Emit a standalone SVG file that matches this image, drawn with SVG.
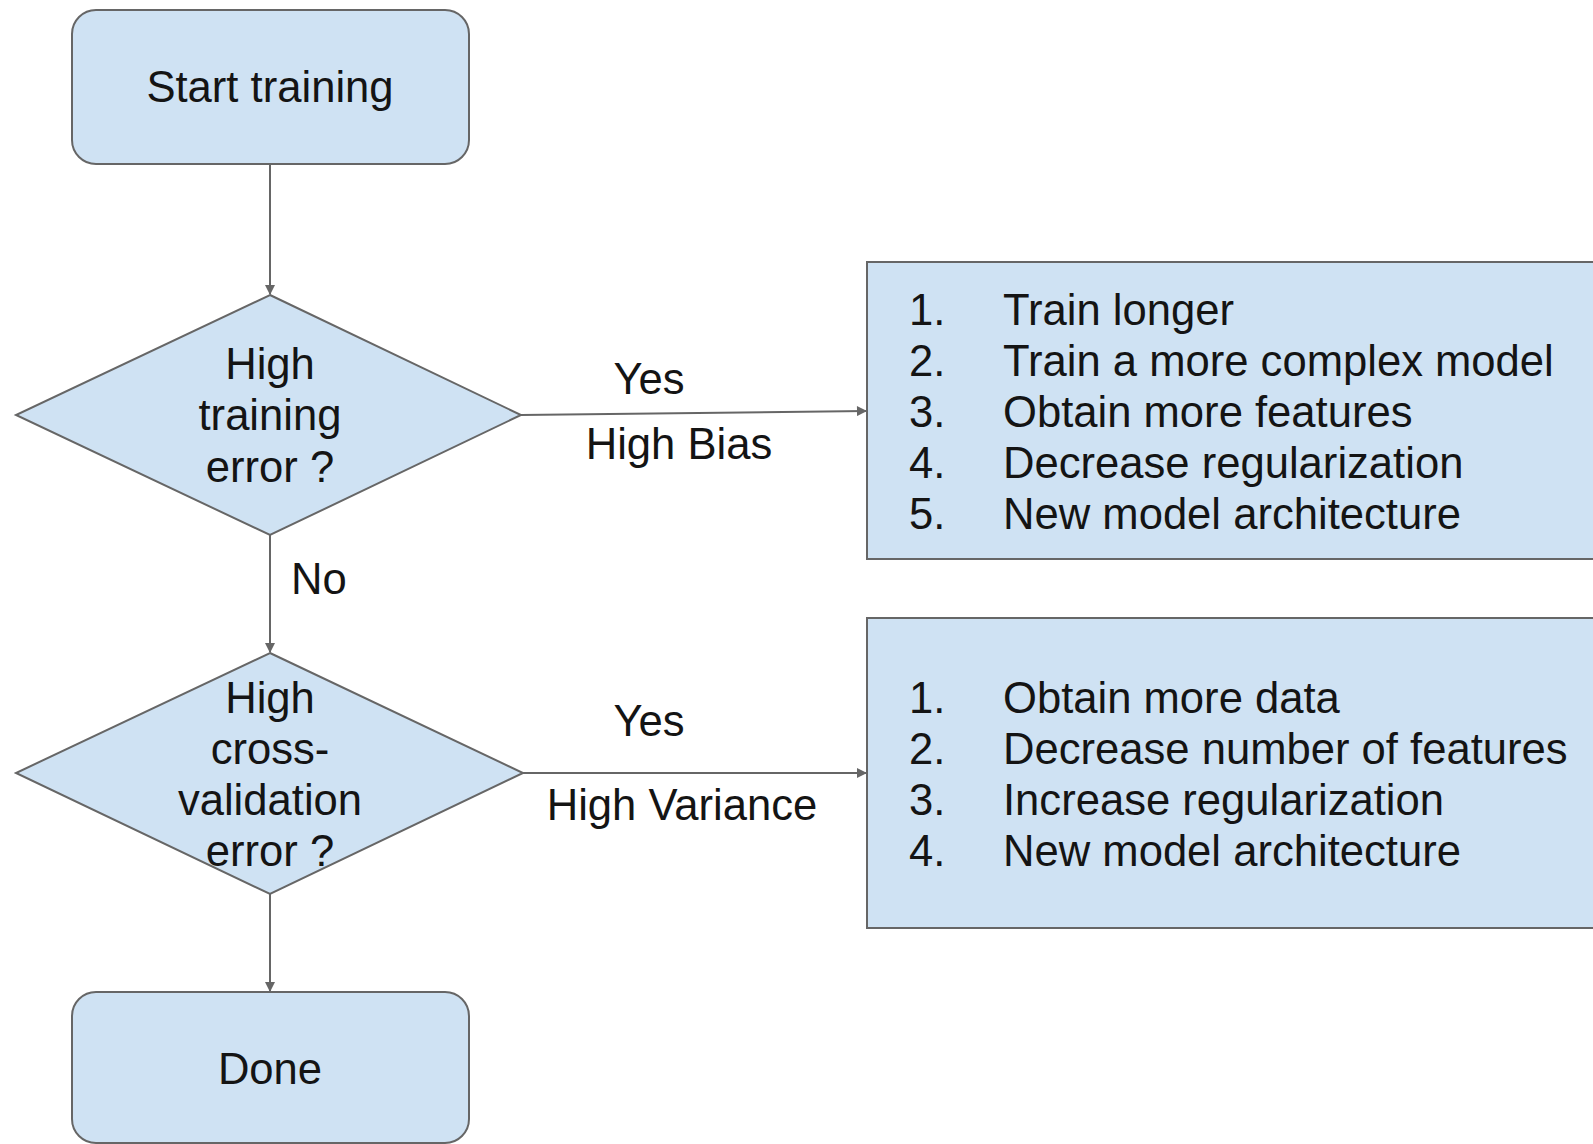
<svg xmlns="http://www.w3.org/2000/svg" width="1593" height="1144" viewBox="0 0 1593 1144">
<style>
.shape{fill:#cfe2f3;stroke:#666666;stroke-width:2}
.t{font-family:"Liberation Sans",Arial,sans-serif;font-size:43.6px;fill:#141414}
.c{text-anchor:middle}
.edge{stroke:#666666;stroke-width:2;fill:none;marker-end:url(#arr)}
</style>
<defs>
<marker id="arr" viewBox="0 0 10 10" refX="9" refY="5" markerWidth="5.5" markerHeight="5" markerUnits="strokeWidth" orient="auto">
<path d="M0,0 L10,5 L0,10 z" fill="#666666"/>
</marker>
</defs>
<rect width="1593" height="1144" fill="#ffffff"/>
<g id="connectors">
<line class="edge" x1="270" y1="164" x2="270" y2="294"/>
<line class="edge" x1="521" y1="415" x2="866" y2="411"/>
<line class="edge" x1="270" y1="535" x2="270" y2="652"/>
<line class="edge" x1="523" y1="773" x2="866" y2="773"/>
<line class="edge" x1="270" y1="894" x2="270" y2="991"/>
<text class="t c" x="649" y="394">Yes</text>
<text class="t c" x="679" y="459">High Bias</text>
<text class="t" x="291" y="594">No</text>
<text class="t c" x="649" y="736">Yes</text>
<text class="t c" x="682" y="820">High Variance</text>
</g>
<g id="start">
<rect class="shape" x="72" y="10" width="397" height="154" rx="24"/>
<text class="t c" x="270" y="102">Start training</text>
</g>
<g id="decision1">
<polygon class="shape" points="270,295 521,415 270,535 16,415"/>
<text class="t c" x="270" y="379">High</text>
<text class="t c" x="270" y="430">training</text>
<text class="t c" x="270" y="482">error ?</text>
</g>
<g id="bias-actions">
<rect class="shape" x="867" y="262" width="740" height="297"/>
<text class="t" x="909" y="325">1.</text><text class="t" x="1003" y="325">Train longer</text>
<text class="t" x="909" y="376">2.</text><text class="t" x="1003" y="376">Train a more complex model</text>
<text class="t" x="909" y="427">3.</text><text class="t" x="1003" y="427">Obtain more features</text>
<text class="t" x="909" y="478">4.</text><text class="t" x="1003" y="478">Decrease regularization</text>
<text class="t" x="909" y="529">5.</text><text class="t" x="1003" y="529">New model architecture</text>
</g>
<g id="decision2">
<polygon class="shape" points="270,653 523,773 270,894 16,773"/>
<text class="t c" x="270" y="713">High</text>
<text class="t c" x="270" y="764">cross-</text>
<text class="t c" x="270" y="815">validation</text>
<text class="t c" x="270" y="866">error ?</text>
</g>
<g id="variance-actions">
<rect class="shape" x="867" y="618" width="740" height="310"/>
<text class="t" x="909" y="713">1.</text><text class="t" x="1003" y="713">Obtain more data</text>
<text class="t" x="909" y="764">2.</text><text class="t" x="1003" y="764">Decrease number of features</text>
<text class="t" x="909" y="815">3.</text><text class="t" x="1003" y="815">Increase regularization</text>
<text class="t" x="909" y="866">4.</text><text class="t" x="1003" y="866">New model architecture</text>
</g>
<g id="done">
<rect class="shape" x="72" y="992" width="397" height="151" rx="24"/>
<text class="t c" x="270" y="1084">Done</text>
</g>
</svg>
